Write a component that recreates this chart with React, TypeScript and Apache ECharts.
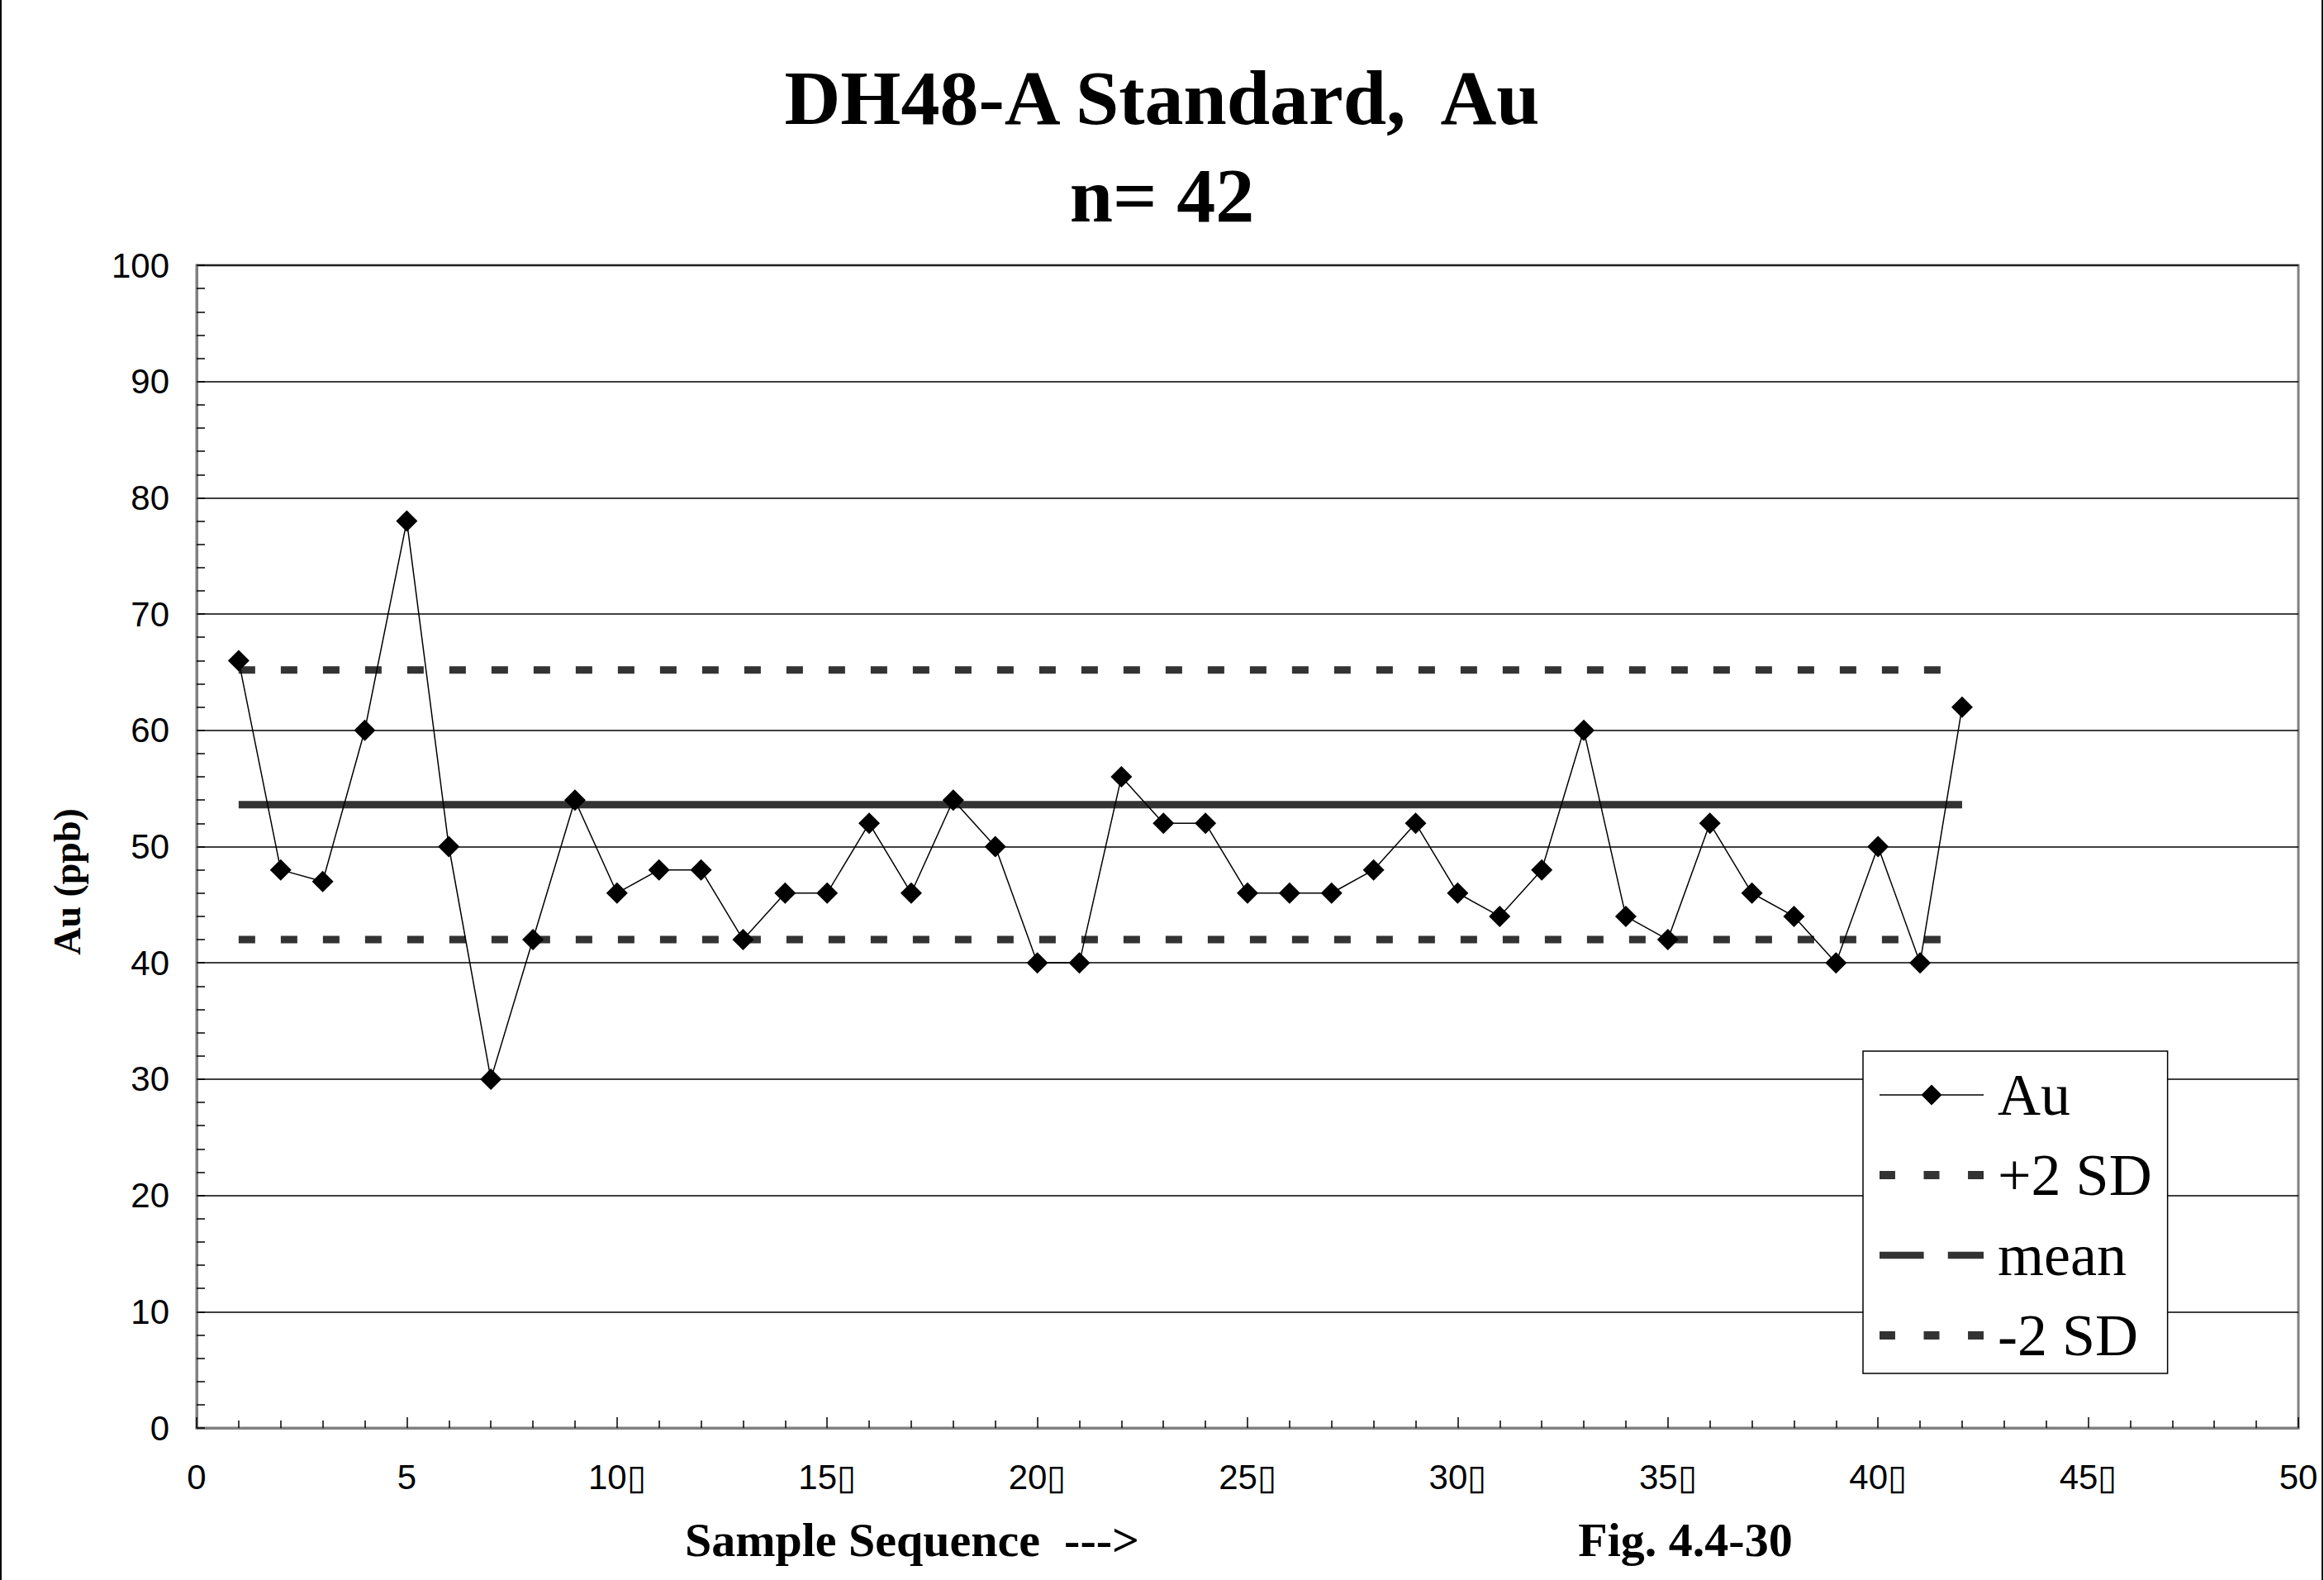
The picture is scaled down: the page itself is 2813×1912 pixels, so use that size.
import React, { useEffect, useRef } from "react";
import * as echarts from "echarts";

// ---- data ----
const sampleIndex: number[] = [
  1, 2, 3, 4, 5, 6, 7, 8, 9, 10, 11, 12, 13, 14, 15, 16, 17, 18, 19, 20, 21,
  22, 23, 24, 25, 26, 27, 28, 29, 30, 31, 32, 33, 34, 35, 36, 37, 38, 39, 40,
  41, 42,
];
const auValues: number[] = [
  66, 48, 47, 60, 78, 50, 30, 42, 54, 46, 48, 48, 42, 46, 46, 52, 46, 54, 50,
  40, 40, 56, 52, 52, 46, 46, 46, 48, 52, 46, 44, 48, 60, 44, 42, 52, 46, 44,
  40, 50, 40, 62,
];
const meanValue = 53.6;
const plus2SD = 65.2;
const minus2SD = 42.0;
const lineStartX = 1;
const lineEndX = 42;

const titleText = "DH48-A Standard,  Au\nn= 42";
const xAxisTitle = "Sample Sequence  --->";
const figLabel = "Fig. 4.4-30";
const yAxisTitle = "Au (ppb)";
const legendNames = ["Au", "+2 SD", "mean", "-2 SD"];

// legend icon shapes
const auIcon = "path://M0 11.75 L126 11.75 L126 13.25 L0 13.25 Z M63 0 L75.5 12.5 L63 25 L50.5 12.5 Z";
const sdIcon = "path://M0 0 H17 V9 H0 Z M48 0 H65 V9 H48 Z M96 0 H113 V9 H96 Z";
const meanIcon = "path://M0 0 H57 V9 H0 Z M88 0 H134 V9 H88 Z";

export default function App() {
  const ref = useRef<HTMLDivElement>(null);

  useEffect(() => {
    if (!ref.current) return;
    const chart = echarts.init(ref.current, null, { renderer: "svg" });

    const auData = sampleIndex.map((x, i) => [x, auValues[i]]);
    const flat = (v: number) => [
      [lineStartX, v],
      [lineEndX, v],
    ];

    const axisGray = "#808080";
    const labelFont = "Liberation Sans";
    const serif = "Liberation Serif";

    chart.setOption({
      animation: false,
      backgroundColor: "#ffffff",
      title: {
        text: titleText,
        left: "center",
        top: 59,
        padding: 0,
        textStyle: {
          fontFamily: serif,
          fontWeight: "bold",
          fontSize: 94,
          lineHeight: 118,
          color: "#000",
        },
      },
      grid: {
        left: 238,
        top: 321,
        right: 31,
        bottom: 184,
        show: true,
        borderColor: axisGray,
        borderWidth: 3,
        backgroundColor: "#fff",
      },
      legend: {
        orient: "vertical",
        left: 2255,
        top: 1272,
        itemWidth: 126,
        itemHeight: 25,
        itemGap: 25,
        padding: [17, 19, 10, 20],
        backgroundColor: "#fff",
        borderColor: "#000",
        borderWidth: 1.5,
        borderRadius: 0,
        selectedMode: false,
        textStyle: {
          fontFamily: serif,
          fontSize: 72,
          lineHeight: 72,
          color: "#000",
          padding: [0, 0, 0, 12],
        },
        data: [
          { name: legendNames[0], icon: auIcon },
          { name: legendNames[1], icon: sdIcon },
          { name: legendNames[2], icon: meanIcon },
          { name: legendNames[3], icon: sdIcon },
        ],
      },
      xAxis: {
        type: "value",
        min: 0,
        max: 50,
        interval: 5,
        axisLine: { show: true, lineStyle: { color: axisGray, width: 3 } },
        axisTick: { show: true, inside: true, length: 13, lineStyle: { color: "#000", width: 1.5 } },
        minorTick: { show: true, splitNumber: 5, length: 9, lineStyle: { color: "#000", width: 1.5 } },
        splitLine: { show: false },
        axisLabel: {
          fontFamily: labelFont,
          fontSize: 42,
          color: "#000",
          margin: 38,
          formatter: (v: number) => (v >= 10 && v < 50 ? `${v}\u25AF` : `${v}`),
        },
      },
      yAxis: {
        type: "value",
        min: 0,
        max: 100,
        interval: 10,
        axisLine: { show: true, lineStyle: { color: axisGray, width: 3 } },
        axisTick: { show: true, inside: true, length: 10, lineStyle: { color: "#000", width: 1.5 } },
        minorTick: { show: true, splitNumber: 5, length: 10, lineStyle: { color: "#000", width: 1.5 } },
        splitLine: { show: true, lineStyle: { color: "#000", width: 1.5 } },
        axisLabel: {
          fontFamily: labelFont,
          fontSize: 42,
          color: "#000",
          margin: 33,
        },
      },
      graphic: [
        {
          type: "line",
          shape: { x1: 1, y1: 0, x2: 1, y2: 1912 },
          style: { stroke: "#000", lineWidth: 2 },
        },
        {
          type: "line",
          shape: { x1: 2811, y1: 0, x2: 2811, y2: 1912 },
          style: { stroke: "#000", lineWidth: 2 },
        },
        {
          type: "text",
          x: 81,
          y: 1067,
          rotation: Math.PI / 2,
          style: {
            text: yAxisTitle,
            fontFamily: serif,
            fontWeight: "bold",
            fontSize: 46,
            fill: "#000",
            align: "center",
            verticalAlign: "middle",
          },
        },
        {
          type: "text",
          x: 1104,
          y: 1863,
          style: {
            text: xAxisTitle,
            fontFamily: serif,
            fontWeight: "bold",
            fontSize: 58,
            fill: "#000",
            align: "center",
            verticalAlign: "middle",
          },
        },
        {
          type: "text",
          x: 2040,
          y: 1863,
          style: {
            text: figLabel,
            fontFamily: serif,
            fontWeight: "bold",
            fontSize: 58,
            fill: "#000",
            align: "center",
            verticalAlign: "middle",
          },
        },
      ],
      series: [
        {
          name: legendNames[1],
          type: "line",
          data: flat(plus2SD),
          symbol: "none",
          color: "#333333",
          lineStyle: { color: "#333333", width: 9, type: [20, 31], cap: "butt" },
          z: 2,
        },
        {
          name: legendNames[2],
          type: "line",
          data: flat(meanValue),
          symbol: "none",
          color: "#333333",
          lineStyle: { color: "#333333", width: 9, cap: "butt" },
          z: 2,
        },
        {
          name: legendNames[3],
          type: "line",
          data: flat(minus2SD),
          symbol: "none",
          color: "#333333",
          lineStyle: { color: "#333333", width: 9, type: [20, 31], cap: "butt" },
          z: 2,
        },
        {
          name: legendNames[0],
          type: "line",
          data: auData,
          symbol: "diamond",
          symbolSize: 26,
          color: "#000000",
          itemStyle: { color: "#000000" },
          lineStyle: { color: "#000000", width: 1.5 },
          z: 3,
        },
      ],
    });

    return () => chart.dispose();
  }, []);

  return (
    <div
      ref={ref}
      style={{ position: "fixed", left: 0, top: 0, width: 2813, height: 1912, background: "#fff" }}
    />
  );
}
